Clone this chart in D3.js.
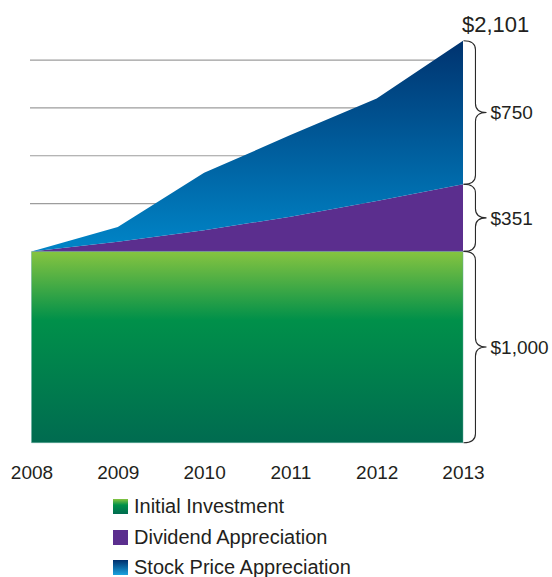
<!DOCTYPE html>
<html>
<head>
<meta charset="utf-8">
<script src="https://cdn.jsdelivr.net/npm/d3@7"></script>
<style>
  html, body { margin: 0; padding: 0; background: #fff; }
  svg { display: block; font-family: "Liberation Sans", Arial, Helvetica, sans-serif; }
  text { fill: #231f20; }
</style>
</head>
<body>
<svg id="chart" width="552" height="577"></svg>
<script>
// Growth of a $1,000 investment, 2008–2013
const years = [2008, 2009, 2010, 2011, 2012, 2013];
const initialInvestment = [1000, 1000, 1000, 1000, 1000, 1000];
const dividendAppreciation = [0, 50, 111, 181, 263, 351];
const stockAppreciation = [0, 78, 300, 427, 536, 750];
const gridValues = [1250, 1500, 1750, 2000];
const seriesNames = ["Initial Investment", "Dividend Appreciation", "Stock Price Appreciation"];
const seriesKeys = ["initial", "dividend", "stock"];

const rows = years.map((yr, i) => ({
  year: yr,
  initial: initialInvestment[i],
  dividend: dividendAppreciation[i],
  stock: stockAppreciation[i]
}));

const svg = d3.select("#chart");
const x = d3.scaleLinear().domain([2008, 2013]).range([31.5, 463]);
const y = d3.scaleLinear().domain([0, 2101]).range([442.7, 40.8]);

const stacked = d3.stack().keys(seriesKeys)(rows);
const lastIdx = rows.length - 1;
const total = stacked[2][lastIdx][1];

// Gradients
const defs = svg.append("defs");
function vGrad(id, stops, y1, y2) {
  const g = defs.append("linearGradient").attr("id", id);
  if (y1 !== undefined) {
    g.attr("gradientUnits", "userSpaceOnUse").attr("x1", 0).attr("x2", 0).attr("y1", y1).attr("y2", y2);
  } else {
    g.attr("x1", 0).attr("x2", 0).attr("y1", 0).attr("y2", 1);
  }
  stops.forEach(([o, c]) => g.append("stop").attr("offset", o).attr("stop-color", c));
}
vGrad("gGreen", [[0, "#86c440"], [0.36, "#00904a"], [1, "#006b50"]], y(1000), y(0));
vGrad("gBlue", [[0, "#00336f"], [1, "#0082c4"]], y(total), y(1050));
vGrad("gGreenKey", [[0, "#86c440"], [0.4, "#00904a"], [1, "#006b50"]]);
vGrad("gBlueKey", [[0, "#002f6c"], [1, "#19a3df"]]);

const fills = { initial: "url(#gGreen)", dividend: "#5b2e8e", stock: "url(#gBlue)" };
const keyFills = ["url(#gGreenKey)", "#5b2e8e", "url(#gBlueKey)"];

// Grid lines (behind the areas)
svg.append("g").selectAll("line").data(gridValues).join("line")
  .attr("x1", x(2008) - 1.5).attr("x2", x(2013))
  .attr("y1", d => y(d)).attr("y2", d => y(d))
  .attr("stroke", "#9d9d9d").attr("stroke-width", 1.2);

// Stacked areas
const area = d3.area()
  .x(d => x(d.data.year))
  .y0(d => y(d[0]))
  .y1(d => y(d[1]));

svg.append("g").selectAll("path").data(stacked).join("path")
  .attr("d", area)
  .attr("fill", d => fills[d.key]);

// Faint outline along the base layer
svg.append("path").datum(stacked[0])
  .attr("d", area)
  .attr("fill", "none")
  .attr("stroke", "#5fa89a").attr("stroke-width", 0.8).attr("stroke-opacity", 0.6);

// Year axis
const axis = d3.axisBottom(x).tickValues(years).tickFormat(d3.format("d")).tickSize(0).tickPadding(23);
const ax = svg.append("g").attr("transform", `translate(0,${y(0)})`).call(axis);
ax.select(".domain").remove();
ax.selectAll("text").attr("font-size", 19).attr("fill", "#231f20")
  .style("font-family", '"Liberation Sans", Arial, sans-serif');

// Braces with segment labels
function bracePath(x0, y1, y2, w) {
  const ym = (y1 + y2) / 2;
  const q = w * 0.52;
  const r = Math.min(9, (y2 - y1) / 4);
  return `M${x0},${y1} Q${x0 + q},${y1} ${x0 + q},${y1 + r}` +
    ` L${x0 + q},${ym - r} Q${x0 + q},${ym} ${x0 + w},${ym}` +
    ` Q${x0 + q},${ym} ${x0 + q},${ym + r}` +
    ` L${x0 + q},${y2 - r} Q${x0 + q},${y2} ${x0},${y2}`;
}

const segs = stacked.map(s => ({ lo: s[lastIdx][0], hi: s[lastIdx][1] }));
const fmt = d3.format("$,");
const braceX = x(2013) + 0.5;
const braceG = svg.append("g");
segs.forEach(s => {
  braceG.append("path")
    .attr("d", bracePath(braceX, y(s.hi), y(s.lo), 23))
    .attr("fill", "none").attr("stroke", "#2a2a2a").attr("stroke-width", 1.1);
  braceG.append("text")
    .attr("x", braceX + 27).attr("y", (y(s.hi) + y(s.lo)) / 2)
    .attr("dy", "0.36em").attr("font-size", 19)
    .text(fmt(s.hi - s.lo));
});

// Total label
svg.append("text")
  .attr("x", x(2013) - 1).attr("y", y(total) - 8.5)
  .attr("font-size", 22)
  .text(fmt(total));

// Legend
const legend = svg.append("g");
const legendY = [499, 530, 560];
seriesNames.forEach((name, i) => {
  legend.append("rect")
    .attr("x", 113).attr("y", legendY[i]).attr("width", 15).attr("height", 15)
    .attr("fill", keyFills[i]);
  legend.append("text")
    .attr("x", 134).attr("y", legendY[i] + 14)
    .attr("font-size", 20)
    .text(name);
});
</script>
</body>
</html>
